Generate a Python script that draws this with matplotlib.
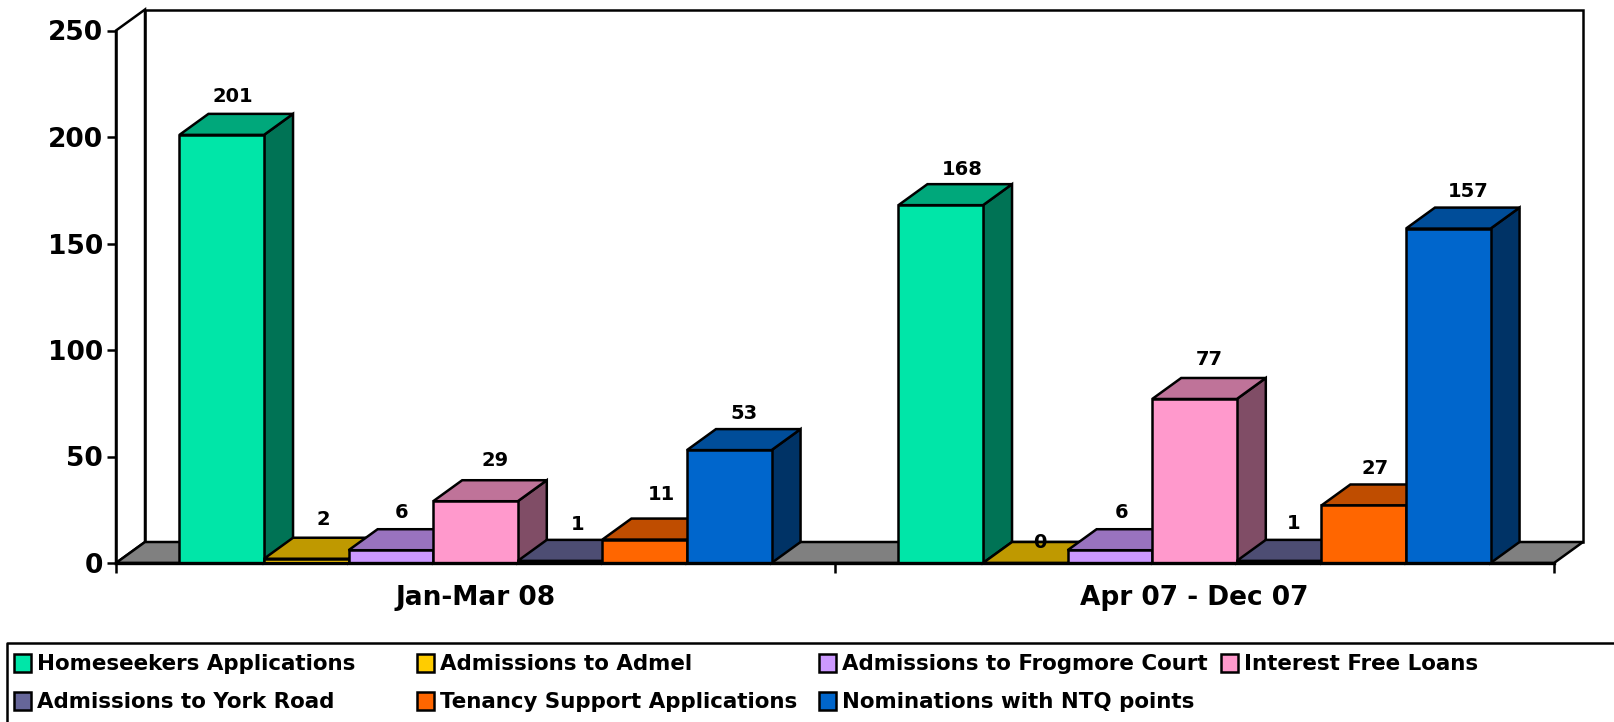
import matplotlib
matplotlib.use('Agg')
import matplotlib.pyplot as plt
from matplotlib.patches import Rectangle

plt.rcParams['font.family'] = ['DejaVu Sans']
plt.rcParams['font.weight'] = 'bold'

# Data
categories = ['Jan-Mar 08', 'Apr 07 - Dec 07']
series = ['Homeseekers Applications', 'Admissions to Admel', 'Admissions to Frogmore Court',
          'Interest Free Loans', 'Admissions to York Road', 'Tenancy Support Applications',
          'Nominations with NTQ points']
jan_mar = [201, 2, 6, 29, 1, 11, 53]
apr_dec = [168, 0, 6, 77, 1, 27, 157]
yticks = [0, 50, 100, 150, 200, 250]

# front, top, side colours of each series
front = ['#00E6A8', '#FFCC00', '#CC99FF', '#FF99CC', '#666699', '#FF6600', '#0066CC']
top = ['#00A87B', '#BF9900', '#9973BF', '#BF7399', '#4D4D73', '#BF4D00', '#004D99']
side = ['#007355', '#806600', '#664D80', '#804D66', '#333350', '#803300', '#003366']

# small label shifts in pixels, the original labels are not placed evenly
nudge_x = [[-3, 2, -4, 5, 3, 2, 0], [7, 0, -3, 0, 0, -3, 5]]
nudge_y = [[1, 2, 1, 4, -1, 8, 0], [-1, 0, 1, 2, 0, 0, 0]]

W, H = 1615, 722
fig = plt.figure(figsize=(W / 100, H / 100), dpi=100)
ax = fig.add_axes([116 / W, (H - 563) / H, 1438 / W, 532.5 / H])
ax.set_xlim(0, 2)
ax.set_ylim(0, 250)

# 3d depth in data units
dx = 29 / 719
dy = 21 * 250 / 532.5
slots = 8.5
bar_w = 1 / slots
lw = 1.8


def poly(xs, ys, color, z):
    ax.fill(xs, ys, facecolor=color, edgecolor='black', linewidth=lw,
            joinstyle='miter', clip_on=False, zorder=z)


# back wall and floor
poly([dx, 2 + dx, 2 + dx, dx], [dy, dy, 250 + dy, 250 + dy], 'white', 1)
poly([0, dx, dx, 0], [0, dy, 250 + dy, 250], 'white', 1)
poly([0, 2, 2 + dx, dx], [0, 0, dy, dy], '#808080', 1)

z = 2
for g, vals in enumerate([jan_mar, apr_dec]):
    for i, v in enumerate(vals):
        x0 = g + (0.75 + i) * bar_w
        x1 = x0 + bar_w
        poly([x1, x1 + dx, x1 + dx, x1], [0, dy, v + dy, v], side[i], z)
        poly([x0, x1, x1 + dx, x0 + dx], [v, v, v + dy, v + dy], top[i], z)
        poly([x0, x1, x1, x0], [0, 0, v, v], front[i], z)
        z += 1

# value labels go on top of everything
for g, vals in enumerate([jan_mar, apr_dec]):
    for i, v in enumerate(vals):
        x0 = g + (0.75 + i) * bar_w
        off = 16 if v > 0 else -1
        ax.annotate(str(v), (x0 + bar_w / 2 + dx / 2, v + dy),
                    xytext=(nudge_x[g][i] * 0.72, (off + nudge_y[g][i]) * 0.72),
                    textcoords='offset points', ha='center', va='center',
                    fontsize=14, color='black', zorder=50, annotation_clip=False)

for s in ['top', 'right']:
    ax.spines[s].set_visible(False)
for s in ['left', 'bottom']:
    ax.spines[s].set_linewidth(lw)
    ax.spines[s].set_zorder(40)
ax.spines['bottom'].set_linewidth(2.4)
ax.patch.set_alpha(0)

ax.set_yticks(yticks)
ax.tick_params(axis='y', labelsize=19, length=6.5, width=lw, pad=3)
ax.set_xticks([0, 1, 2])
ax.set_xticklabels([])
ax.tick_params(axis='x', which='major', length=7, width=lw)
ax.set_xticks([0.5, 1.5], minor=True)
ax.set_xticklabels(categories, minor=True, fontsize=19)
ax.tick_params(axis='x', which='minor', length=0, pad=16)

# legend, laid out in pixels
lg = fig.add_axes([0, 0, 1, 1])
lg.set_xlim(0, W)
lg.set_ylim(H, 0)
lg.axis('off')
lg.plot([W, 7, 7], [643, 643, H], color='black', lw=lw)

col_x = [14, 417, 819, 1221, 14, 417, 819]
row_y = [654, 654, 654, 654, 692, 692, 692]
for i, name in enumerate(series):
    lg.add_patch(Rectangle((col_x[i], row_y[i]), 17, 18, facecolor=front[i],
                           edgecolor='black', linewidth=lw))
    lg.text(col_x[i] + 23, row_y[i] + 9.5, name, ha='left', va='center', fontsize=15.4, color='black')

fig.savefig('out.png', dpi=100, facecolor='white')
